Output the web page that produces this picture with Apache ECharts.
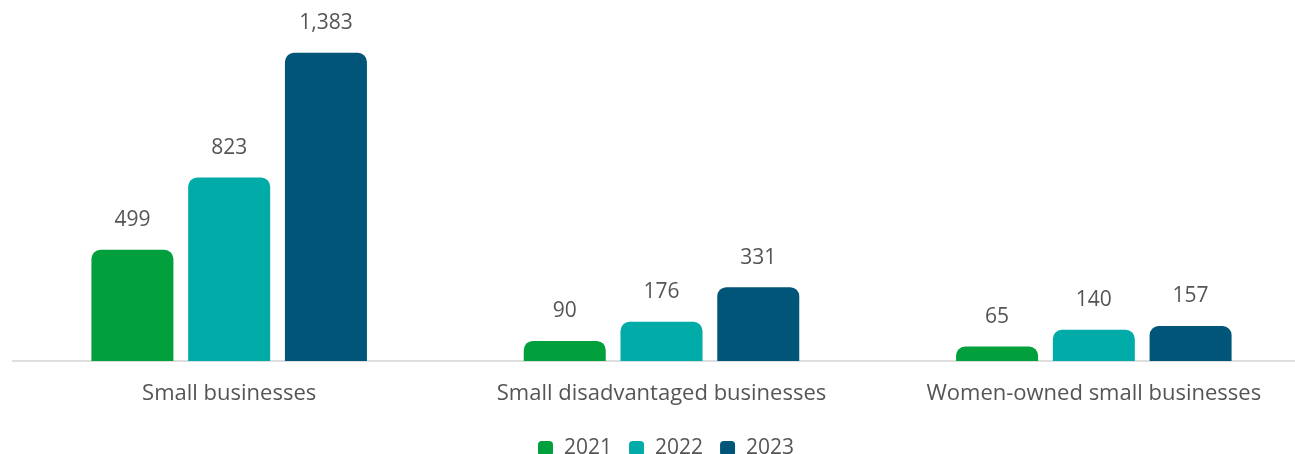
<!DOCTYPE html>
<html>
<head>
<meta charset="utf-8">
<script src="https://cdn.jsdelivr.net/npm/echarts@6/dist/echarts.min.js"></script>
<style>
  body { margin: 0; padding: 0; background: #fff; overflow: hidden; }
  #chart { width: 1310px; height: 454px; }
</style>
</head>
<body>
<div id="chart"></div>
<script>
// categories and yearly values
const categories = ["Small businesses", "Small disadvantaged businesses", "Women-owned small businesses"];
const years = ["2021", "2022", "2023"];
const values2021 = [499, 90, 65];
const values2022 = [823, 176, 140];
const values2023 = [1383, 331, 157];
const colors = ["#02a03c", "#00aba8", "#005578"];

const font = "'Open Sans', 'Noto Sans', sans-serif";

function makeSeries(name, data, color) {
  return {
    name: name,
    type: "bar",
    data: data,
    barWidth: 82,
    barGap: "18%",
    itemStyle: { color: color, borderRadius: [9, 9, 0, 0] },
    label: {
      show: true,
      position: "top",
      distance: 19,
      color: "#555",
      fontFamily: font,
      fontSize: 21,
      formatter: (p) => p.value.toLocaleString("en-US"),
    },
  };
}

// chart box is a bit wider than the window so the last group sits where it does in the original
const chart = echarts.init(document.getElementById("chart"));
chart.setOption({
  animation: false,
  color: colors,
  grid: { left: 13, right: 0, top: 49, bottom: 93 },
  legend: {
    top: 433,
    left: 533,
    icon: "roundRect",
    itemWidth: 15,
    itemHeight: 15,
    itemGap: 17,
    textStyle: { color: "#555", fontFamily: font, fontSize: 21, padding: [0, 0, 0, 6] },
    data: years,
  },
  xAxis: {
    type: "category",
    data: categories,
    axisTick: { show: false },
    axisLine: { lineStyle: { color: "#dedede", width: 2 } },
    axisLabel: { color: "#555", fontFamily: font, fontSize: 22, margin: 22, interval: 0 },
  },
  yAxis: {
    type: "value",
    min: 0,
    max: 1400,
    show: false,
  },
  series: [
    makeSeries(years[0], values2021, colors[0]),
    makeSeries(years[1], values2022, colors[1]),
    makeSeries(years[2], values2023, colors[2]),
  ],
});
</script>
</body>
</html>
